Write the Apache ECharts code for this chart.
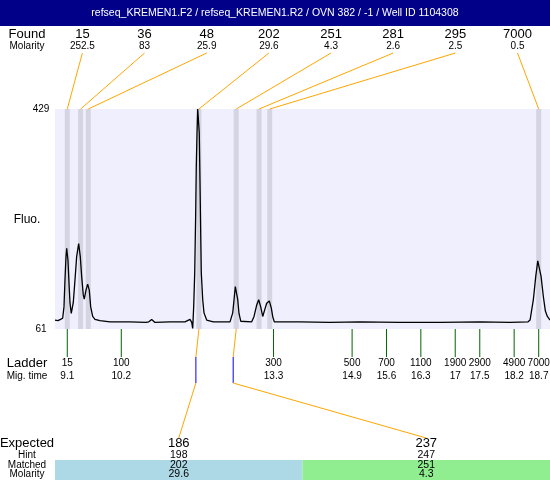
<!DOCTYPE html>
<html>
<head>
<meta charset="utf-8">
<title>refseq_KREMEN1 electropherogram</title>
<script src="https://cdn.jsdelivr.net/npm/echarts@6.0.0/dist/echarts.min.js"></script>
<style>
  html, body { margin: 0; padding: 0; background: #fff; }
  #chart { width: 550px; height: 480px; }
</style>
</head>
<body>
<div id="chart"></div>
<script>
const title = 'refseq_KREMEN1.F2 / refseq_KREMEN1.R2 / OVN 382 / -1 / Well ID 1104308'

// trace, migration time (min) and fluorescence
const traceTime = [
  8.850, 8.911, 8.962, 9.006, 9.033, 9.053, 9.074, 9.088, 9.114, 9.135,
  9.155, 9.181, 9.222, 9.257, 9.291, 9.332, 9.365, 9.393, 9.426, 9.446,
  9.481, 9.515, 9.548, 9.577, 9.617, 9.664, 9.766, 9.970, 10.377, 10.703,
  10.760, 10.819, 10.886, 11.192, 11.497, 11.599, 11.634, 11.654, 11.674, 11.695,
  11.715, 11.727, 11.742, 11.756, 11.782, 11.788, 11.803, 11.817, 11.829, 11.858,
  11.884, 11.939, 12.074, 12.414, 12.469, 12.496, 12.522, 12.550, 12.571, 12.597,
  12.632, 12.856, 12.903, 12.957, 12.998, 13.039, 13.080, 13.120, 13.161, 13.214,
  13.255, 13.283, 13.316, 13.839, 14.450, 15.061, 15.876, 16.690, 17.505, 18.116,
  18.483, 18.524, 18.591, 18.640, 18.681, 18.713, 18.748, 18.795, 18.836, 18.876,
  18.931,
]
const traceFluo = [
  76, 75, 77, 79, 98, 143, 182, 196, 176, 138,
  105, 87, 105, 143, 182, 204, 182, 149, 118, 111,
  126, 136, 126, 98, 82, 77, 75, 73, 73, 72,
  73, 77, 72, 73, 73, 77, 72, 62, 98, 155,
  255, 333, 389, 429, 429, 389, 305, 222, 155, 110,
  88, 76, 73, 73, 88, 110, 132, 129, 110, 87,
  74, 73, 82, 101, 110, 98, 82, 93, 104, 108,
  96, 82, 73, 73, 72, 73, 72, 72, 73, 72,
  73, 76, 110, 149, 175, 174, 149, 115, 91, 82,
  76,
]

const fluoMin = 61
const fluoMax = 429

const foundSize = [15, 36, 48, 202, 251, 281, 295, 7000]
const foundMolarity = [252.5, 83, 25.9, 29.6, 4.3, 2.6, 2.5, 0.5]

const ladderSize = [15, 100, 300, 500, 700, 1100, 1900, 2900, 4900, 7000]
const ladderTime = [9.1, 10.2, 13.3, 14.9, 15.6, 16.3, 17, 17.5, 18.2, 18.7]

const expectedSize = [186, 237]
const hintSize = [198, 247]
const matchedSize = [202, 251]
const matchedMolarity = [29.6, 4.3]

const FONT = '"Liberation Sans", Arial, sans-serif'
const ORANGE = '#FFA500'
const BAND = '#D4D4E2'
const matchColors = ['#ADD8E6', '#90EE90']

function sizeToTime(size) {
  for (let i = 1; i < ladderSize.length; i++) {
    if (size <= ladderSize[i]) {
      const f = (size - ladderSize[i - 1]) / (ladderSize[i] - ladderSize[i - 1])
      return ladderTime[i - 1] + f * (ladderTime[i] - ladderTime[i - 1])
    }
  }
  return ladderTime[ladderTime.length - 1]
}

function txt(text, x, y, size, fill) {
  return {
    type: 'text',
    x: x,
    y: y,
    style: {
      text: String(text),
      align: 'center',
      verticalAlign: 'middle',
      font: size + 'px ' + FONT,
      fill: fill || '#000',
    },
  }
}

function renderFound(params, api) {
  const i = api.value(2)
  const cs = params.coordSys
  const px = api.coord([api.value(0), fluoMax])[0]
  const sx = 82.4 + i * 62.16
  return {
    type: 'group',
    children: [
      { type: 'rect', shape: { x: px - 2.5, y: cs.y, width: 5, height: cs.height }, style: { fill: BAND } },
      { type: 'line', shape: { x1: sx, y1: 53, x2: px, y2: cs.y }, style: { stroke: ORANGE, lineWidth: 1 } },
      txt(foundSize[i], sx, 34.5, 13),
      txt(foundMolarity[i], sx, 46.5, 10),
    ],
  }
}

function renderLadder(params, api) {
  const i = params.dataIndex
  const cs = params.coordSys
  const bottom = cs.y + cs.height
  const px = api.coord([api.value(0), fluoMin])[0]
  return {
    type: 'group',
    children: [
      { type: 'line', shape: { x1: px, y1: bottom, x2: px, y2: 357 }, style: { stroke: '#006400', lineWidth: 1 } },
      txt(ladderSize[i], px, 363.5, 10),
      txt(ladderTime[i], px, 376.5, 10),
    ],
  }
}

function renderExpected(params, api) {
  const i = params.dataIndex
  const cs = params.coordSys
  const bottom = cs.y + cs.height
  const peakX = api.coord([api.value(0), fluoMin])[0]
  const hintX = api.coord([api.value(1), fluoMin])[0]
  const colW = cs.width / expectedSize.length
  const colX = cs.x + colW * (i + 0.5)
  return {
    type: 'group',
    children: [
      { type: 'rect', shape: { x: cs.x + colW * i, y: 460, width: colW, height: 20 }, style: { fill: matchColors[i] } },
      { type: 'line', shape: { x1: peakX, y1: bottom, x2: hintX, y2: 357 }, style: { stroke: ORANGE, lineWidth: 1 } },
      { type: 'line', shape: { x1: hintX, y1: 357, x2: hintX, y2: 383 }, style: { stroke: '#0000FF', lineWidth: 1 } },
      { type: 'line', shape: { x1: hintX, y1: 383, x2: colX, y2: 438 }, style: { stroke: ORANGE, lineWidth: 1 } },
      txt(expectedSize[i], colX, 443.5, 13),
      txt(hintSize[i], colX, 455, 10.5),
      txt(matchedSize[i], colX, 465, 10.5),
      txt(matchedMolarity[i], colX, 474.5, 10.5),
    ],
  }
}

const chart = echarts.init(document.getElementById('chart'), null, { renderer: 'canvas' })

chart.setOption({
  animation: false,
  grid: {
    left: 55,
    top: 109,
    width: 495,
    height: 220,
    show: true,
    backgroundColor: '#EFEFFD',
    borderWidth: 0,
  },
  xAxis: {
    type: 'value',
    min: 8.85,
    max: 18.93,
    show: false,
  },
  yAxis: {
    type: 'value',
    min: fluoMin,
    max: fluoMax,
    interval: fluoMax - fluoMin,
    axisLine: { show: false },
    axisTick: { show: false },
    splitLine: { show: false },
    axisLabel: {
      align: 'center',
      margin: 14,
      color: '#000',
      fontSize: 10,
      fontFamily: FONT,
    },
  },
  graphic: [
    { type: 'rect', shape: { x: 0, y: 0, width: 550, height: 26 }, style: { fill: '#000088' } },
    txt(title, 275, 13.5, 10.5, '#fff'),
    txt('Found', 27, 34.5, 13),
    txt('Molarity', 27, 46.5, 10),
    txt('Fluo.', 27, 220, 12),
    txt('Ladder', 27, 363.5, 13),
    txt('Mig. time', 27, 376.5, 10),
    txt('Expected', 27, 443.5, 13),
    txt('Hint', 27, 455, 10),
    txt('Matched', 27, 465, 10),
    txt('Molarity', 27, 474.5, 10),
  ],
  series: [
    {
      type: 'custom',
      z: 1,
      renderItem: renderFound,
      data: foundSize.map((s, i) => [sizeToTime(s), fluoMax, i]),
    },
    {
      type: 'line',
      z: 2,
      showSymbol: false,
      lineStyle: { color: '#000', width: 1.3 },
      data: traceTime.map((t, i) => [t, traceFluo[i]]),
    },
    {
      type: 'custom',
      z: 1,
      renderItem: renderLadder,
      data: ladderTime.map(t => [t, fluoMin]),
    },
    {
      type: 'custom',
      z: 1,
      renderItem: renderExpected,
      data: matchedSize.map((s, i) => [sizeToTime(s), sizeToTime(hintSize[i])]),
    },
  ],
})
</script>
</body>
</html>
